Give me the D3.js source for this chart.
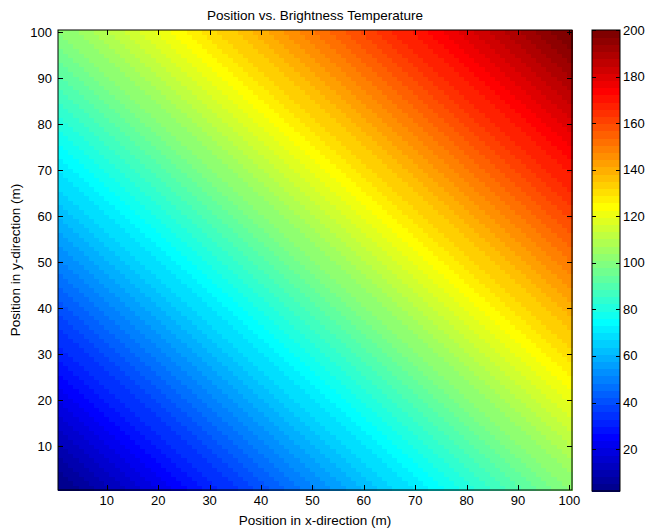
<!DOCTYPE html>
<html>
<head>
<meta charset="utf-8">
<script src="https://cdn.jsdelivr.net/npm/d3@7"></script>
<style>
  body { margin: 0; background: #fff; }
  svg { display: block; font-family: "Liberation Sans", Arial, sans-serif; }
</style>
</head>
<body>
<svg id="chart" width="646" height="529"></svg>
<script>
// brightness contribution along each direction (T = x part + y part)
const xTemp = [1,2,3,4,5,6,7,8,9,10,11,12,13,14,15,16,17,18,19,20,21,22,23,24,25,26,27,28,29,30,31,32,33,34,35,36,37,38,39,40,41,42,43,44,45,46,47,48,49,50,51,52,53,54,55,56,57,58,59,60,61,62,63,64,65,66,67,68,69,70,71,72,73,74,75,76,77,78,79,80,81,82,83,84,85,86,87,88,89,90,91,92,93,94,95,96,97,98,99,100];
const yTemp = [1,2,3,4,5,6,7,8,9,10,11,12,13,14,15,16,17,18,19,20,21,22,23,24,25,26,27,28,29,30,31,32,33,34,35,36,37,38,39,40,41,42,43,44,45,46,47,48,49,50,51,52,53,54,55,56,57,58,59,60,61,62,63,64,65,66,67,68,69,70,71,72,73,74,75,76,77,78,79,80,81,82,83,84,85,86,87,88,89,90,91,92,93,94,95,96,97,98,99,100];
const xTicks = [10, 20, 30, 40, 50, 60, 70, 80, 90, 100];
const yTicks = [10, 20, 30, 40, 50, 60, 70, 80, 90, 100];
const cbarTicks = [20, 40, 60, 80, 100, 120, 140, 160, 180, 200];
const colorLimits = [2, 200];

const svg = d3.select('#chart');
const margin = { left: 58, right: 572, top: 30, bottom: 490 };
const cbar = { left: 592, right: 620, top: 30, bottom: 491 };

const x = d3.scaleLinear().domain([0.5, 100.5]).range([margin.left, margin.right]);
const y = d3.scaleLinear().domain([0.5, 100.5]).range([margin.bottom, margin.top]);

// MATLAB jet, 64 levels
const nColors = 64;
function jet(i) {
  const t = (i + 1) / nColors;
  const c = v => Math.round(255 * Math.max(0, Math.min(1, v)));
  return `rgb(${c(1.5 - Math.abs(4 * t - 3))},${c(1.5 - Math.abs(4 * t - 2))},${c(1.5 - Math.abs(4 * t - 1))})`;
}
const jetColors = d3.range(nColors).map(jet);
const colorIndex = v => Math.max(0, Math.min(nColors - 1,
  Math.floor((v - colorLimits[0]) / (colorLimits[1] - colorLimits[0]) * nColors)));

const cells = [];
xTemp.forEach((tx, i) => {
  yTemp.forEach((ty, j) => {
    cells.push({ col: i + 1, row: j + 1, value: tx + ty });
  });
});

const cw = x(1.5) - x(0.5);
const ch = y(0.5) - y(1.5);
svg.append('g')
  .attr('shape-rendering', 'crispEdges')
  .selectAll('rect')
  .data(cells)
  .enter()
  .append('rect')
  .attr('x', d => x(d.col - 0.5))
  .attr('y', d => y(d.row + 0.5))
  .attr('width', cw + 0.6)
  .attr('height', ch + 0.6)
  .attr('fill', d => jetColors[colorIndex(d.value)]);

// axes box with inward ticks
const tickLen = 5;
const axes = svg.append('g').attr('stroke', '#000').attr('stroke-width', 1);
axes.append('rect')
  .attr('x', margin.left).attr('y', margin.top)
  .attr('width', margin.right - margin.left).attr('height', margin.bottom - margin.top)
  .attr('fill', 'none');
xTicks.forEach(t => {
  const px = Math.round(x(t)) + 0.5;
  axes.append('line').attr('x1', px).attr('x2', px).attr('y1', margin.bottom).attr('y2', margin.bottom - tickLen);
  axes.append('line').attr('x1', px).attr('x2', px).attr('y1', margin.top).attr('y2', margin.top + tickLen);
});
yTicks.forEach(t => {
  const py = Math.round(y(t)) + 0.5;
  axes.append('line').attr('y1', py).attr('y2', py).attr('x1', margin.left).attr('x2', margin.left + tickLen);
  axes.append('line').attr('y1', py).attr('y2', py).attr('x1', margin.right).attr('x2', margin.right - tickLen);
});

const fs = '13px';
svg.append('g').selectAll('text')
  .data(xTicks).enter().append('text')
  .attr('x', d => x(d)).attr('y', margin.bottom + 15)
  .attr('text-anchor', 'middle').attr('font-size', fs)
  .text(d => d);
svg.append('g').selectAll('text')
  .data(yTicks).enter().append('text')
  .attr('x', margin.left - 6).attr('y', d => y(d) + 4.5)
  .attr('text-anchor', 'end').attr('font-size', fs)
  .text(d => d);

// colorbar
const cy = d3.scaleLinear().domain(colorLimits).range([cbar.bottom, cbar.top]);
const step = (colorLimits[1] - colorLimits[0]) / nColors;
svg.append('g')
  .attr('shape-rendering', 'crispEdges')
  .selectAll('rect')
  .data(jetColors).enter().append('rect')
  .attr('x', cbar.left)
  .attr('y', (d, i) => cy(colorLimits[0] + (i + 1) * step))
  .attr('width', cbar.right - cbar.left)
  .attr('height', (d, i) => cy(colorLimits[0] + i * step) - cy(colorLimits[0] + (i + 1) * step) + 0.6)
  .attr('fill', d => d);
const cb = svg.append('g').attr('stroke', '#000').attr('stroke-width', 1);
cb.append('rect')
  .attr('x', cbar.left).attr('y', cbar.top)
  .attr('width', cbar.right - cbar.left).attr('height', cbar.bottom - cbar.top)
  .attr('fill', 'none');
cbarTicks.forEach(t => {
  const py = Math.round(cy(t)) + 0.5;
  cb.append('line').attr('y1', py).attr('y2', py).attr('x1', cbar.left).attr('x2', cbar.left + 4);
  cb.append('line').attr('y1', py).attr('y2', py).attr('x1', cbar.right).attr('x2', cbar.right - 4);
});
svg.append('g').selectAll('text')
  .data(cbarTicks).enter().append('text')
  .attr('x', cbar.right + 3).attr('y', d => cy(d) + 4.5)
  .attr('font-size', fs)
  .text(d => d);

// titles
svg.append('text')
  .attr('x', (margin.left + margin.right) / 2).attr('y', 20)
  .attr('text-anchor', 'middle').attr('font-size', '13.5px')
  .text('Position vs. Brightness Temperature');
svg.append('text')
  .attr('x', (margin.left + margin.right) / 2).attr('y', 525)
  .attr('text-anchor', 'middle').attr('font-size', '13.5px')
  .text('Position in x-direction (m)');
svg.append('text')
  .attr('transform', `translate(20,${(margin.top + margin.bottom) / 2}) rotate(-90)`)
  .attr('text-anchor', 'middle').attr('font-size', '13.5px')
  .text('Position in y-direction (m)');
</script>
</body>
</html>
